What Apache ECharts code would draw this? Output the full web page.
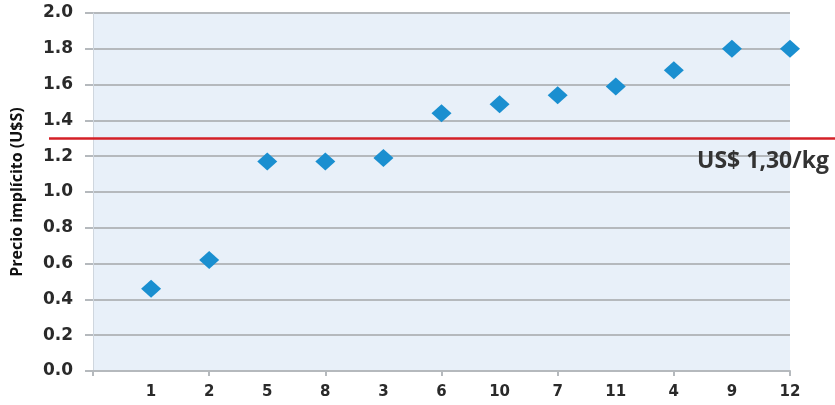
<!DOCTYPE html>
<html><head><meta charset="utf-8">
<script src="https://cdn.jsdelivr.net/npm/echarts@6/dist/echarts.min.js"></script>
<style>html,body{margin:0;padding:0;background:#fff}#c{width:835px;height:405px}</style>
</head><body><div id="c"></div>
<script>
const categories = ['1','2','5','8','3','6','10','7','11','4','9','12'];
const positions = [1,2,3,4,5,6,7,8,9,10,11,12];
const prices = [0.46,0.62,1.17,1.17,1.19,1.44,1.49,1.54,1.59,1.68,1.80,1.80];
const threshold = 1.30;
const thresholdLabel = 'US$ 1,30/kg';
const yTicks = ['0.0','0.2','0.4','0.6','0.8','1.0','1.2','1.4','1.6','1.8','2.0'];

const chart = echarts.init(document.getElementById('c'));
const font = 'DejaVu Sans';
chart.setOption({
  animation: false,
  grid: [
    {left: 93, right: 45, top: 13, bottom: 34, show: true, backgroundColor: '#e8f0f9', borderWidth: 0},
    {left: 49, right: 0, top: 13, bottom: 34, show: false}
  ],
  xAxis: [
    {type: 'value', gridIndex: 0, min: 0, max: 12, interval: 2,
     axisLine: {show: true, lineStyle: {color: '#b5b9bd', width: 2}},
     axisTick: {show: true, length: 5, lineStyle: {color: '#b5b9bd', width: 2}},
     axisLabel: {show: false}, splitLine: {show: false}},
    {type: 'value', gridIndex: 0, min: 0, max: 12, interval: 1, position: 'bottom',
     axisLine: {show: false}, axisTick: {show: false}, splitLine: {show: false},
     axisLabel: {show: true, margin: 14, color: '#2a2a2a', fontFamily: font, fontWeight: 'bold', fontSize: 15,
       formatter: v => (v >= 1 && v <= 12) ? categories[positions.indexOf(v)] : ''}},
    {type: 'value', gridIndex: 1, min: 0, max: 1, show: false}
  ],
  yAxis: [
    {type: 'value', gridIndex: 0, min: 0, max: 2, interval: 0.2,
     name: 'Precio implícito (U$S)', nameLocation: 'middle', nameGap: 68,
     nameTextStyle: {fontFamily: 'Open Sans', fontWeight: 'bold', fontSize: 16, color: '#111'},
     axisLine: {show: true, lineStyle: {color: '#cfd6de', width: 1}},
     axisTick: {show: true, length: 8, lineStyle: {color: '#b5b9bd', width: 2}},
     axisLabel: {color: '#2a2a2a', fontFamily: font, fontWeight: 'bold', fontSize: 17, margin: 20,
       formatter: v => yTicks[Math.round(v / 0.2)]},
     splitLine: {show: true, lineStyle: {color: '#b5b9bd', width: 2}}},
    {type: 'value', gridIndex: 1, min: 0, max: 2, show: false}
  ],
  series: [
    {type: 'scatter', xAxisIndex: 0, yAxisIndex: 0, symbol: 'diamond', symbolSize: [20, 18],
     itemStyle: {color: '#1a8fd0', opacity: 1},
     data: positions.map((p, i) => [p, prices[i]])},
    {type: 'line', xAxisIndex: 2, yAxisIndex: 1, symbol: 'none',
     lineStyle: {opacity: 0}, data: [],
     markLine: {silent: true, symbol: 'none', lineStyle: {color: '#d42027', width: 2.5, type: 'solid'},
       data: [{yAxis: threshold}],
       label: {show: true, position: 'insideEndBottom', formatter: thresholdLabel, distance: [6, 12],
         fontFamily: 'Open Sans', fontWeight: 'bold', fontSize: 23, color: '#333'}}}
  ]
});
</script></body></html>
